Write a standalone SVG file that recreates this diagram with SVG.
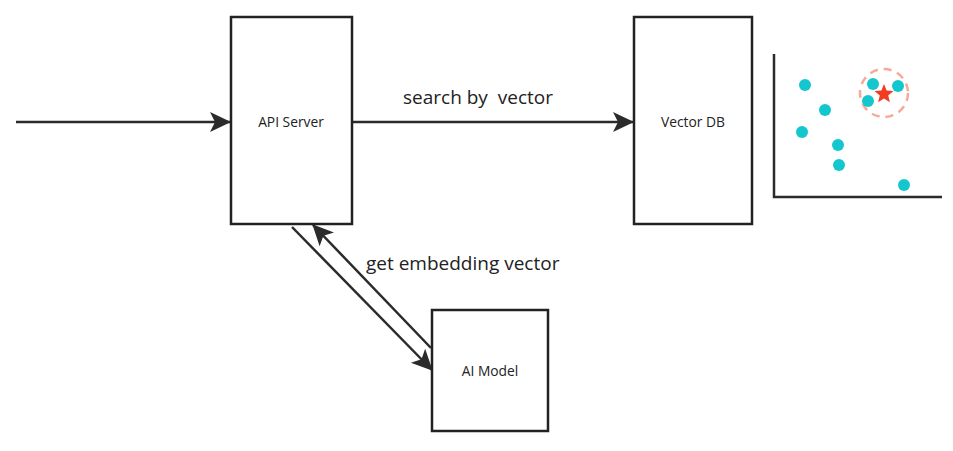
<svg xmlns="http://www.w3.org/2000/svg" width="953" height="451" viewBox="0 0 953 451">
<style>
.box{fill:#fff;stroke:#222;stroke-width:2.5}
.lbl{font-family:"Open Sans","Noto Sans",sans-serif;font-size:13.8px;fill:#222;text-anchor:middle}
.elbl{font-family:"Open Sans","Noto Sans",sans-serif;font-size:19px;fill:#222;white-space:pre}
.edge{fill:none;stroke:#2b2b2b;stroke-width:2.5}
.dot{fill:#14c7cf}
</style>
<defs>
<marker id="ah" viewBox="0 0 22 22" refX="20" refY="11" markerWidth="22" markerHeight="22" markerUnits="userSpaceOnUse" orient="auto">
<path d="M0,1 L21,11 L0,21 L5,11 Z" fill="#2b2b2b"/>
</marker>
</defs>
<rect width="953" height="451" fill="#fff"/>
<g id="connectors">
<line class="edge" x1="16" y1="122" x2="230" y2="122" marker-end="url(#ah)"/>
<line class="edge" x1="353" y1="122" x2="633" y2="122" marker-end="url(#ah)"/>
<line class="edge" x1="292" y1="227" x2="432" y2="370" marker-end="url(#ah)"/>
<line class="edge" x1="431" y1="348" x2="313" y2="225" marker-end="url(#ah)"/>
<text class="elbl" x="403" y="104" xml:space="preserve">search by  vector</text>
<text class="elbl" x="366" y="270">get embedding vector</text>
</g>
<g id="api-server">
<rect class="box" x="231" y="17" width="121" height="207"/>
<text class="lbl" x="291" y="127">API Server</text>
</g>
<g id="vector-db">
<rect class="box" x="634" y="17" width="118" height="207"/>
<text class="lbl" x="693" y="127">Vector DB</text>
</g>
<g id="ai-model">
<rect class="box" x="432" y="310" width="116" height="121"/>
<text class="lbl" x="490" y="376">AI Model</text>
</g>
<g id="scatter">
<path d="M774,54 L774,197 L942,197" fill="none" stroke="#2b2b2b" stroke-width="2.5"/>
<circle cx="884" cy="93" r="24" fill="none" stroke="#f8a898" stroke-width="2.5" stroke-dasharray="8,6"/>
<circle class="dot" cx="805" cy="85" r="6"/>
<circle class="dot" cx="825" cy="110" r="6"/>
<circle class="dot" cx="802" cy="132" r="6"/>
<circle class="dot" cx="838" cy="145" r="6"/>
<circle class="dot" cx="839" cy="165" r="6"/>
<circle class="dot" cx="904" cy="185" r="6"/>
<circle class="dot" cx="873" cy="84" r="6"/>
<circle class="dot" cx="898" cy="86" r="6"/>
<circle class="dot" cx="868" cy="101" r="6"/>
<path d="M884,84 L886.6,90.5 L893.5,91 L888.2,95.4 L889.9,102.2 L884,98.5 L878.1,102.2 L879.8,95.4 L874.5,91 L881.4,90.5 Z" fill="#f03c22"/>
</g>
</svg>
